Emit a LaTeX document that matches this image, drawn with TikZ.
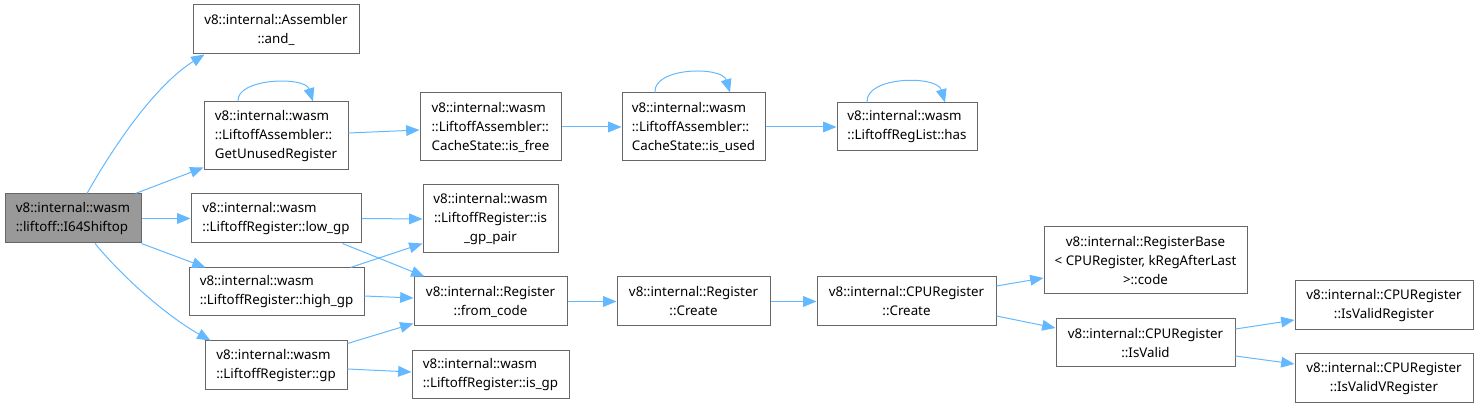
\documentclass[tikz,border=0pt]{standalone}
\usepackage{fontspec}
\setmainfont{Noto Sans}
\usepackage{tikz}
\usetikzlibrary{
    arrows.meta
}
\definecolor{edgeblue}{HTML}{63B8FF}
\definecolor{boxgray}{HTML}{666666}
\definecolor{rootgray}{HTML}{999999}

\begin{document}
\begin{tikzpicture}[x=0.75pt,y=-0.75pt,
    fn/.style={draw=boxgray,line width=0.75pt,inner sep=0pt,align=left,
        font=\fontsize{10}{14.25}\selectfont},
    fnc/.style={fn,align=center},
    call/.style={draw=edgeblue,line width=0.75pt,-{Triangle[length=10pt,width=8pt]}}]

\useasboundingbox (0,0) rectangle (1479,409);

% first column
\node[fn,fill=rootgray,minimum width=102pt,minimum height=36.75pt] (root) at (73,218.5)
    {v8::internal::wasm\\::liftoff::I64Shiftop};

% second column
\node[fnc,minimum width=124.5pt,minimum height=36.75pt] (and) at (276,29.5)
    {v8::internal::Assembler\\::and\_};
\node[fn,minimum width=108pt,minimum height=51pt] (unused) at (276,136)
    {v8::internal::wasm\\::LiftoffAssembler::\\GetUnusedRegister};
\node[fn,minimum width=127.5pt,minimum height=36.75pt] (lowgp) at (276,218.5)
    {v8::internal::wasm\\::LiftoffRegister::low\_gp};
\node[fn,minimum width=131.25pt,minimum height=36pt] (highgp) at (276.5,292)
    {v8::internal::wasm\\::LiftoffRegister::high\_gp};
\node[fn,minimum width=106.5pt,minimum height=36.75pt] (gp) at (276,365.5)
    {v8::internal::wasm\\::LiftoffRegister::gp};

% third column
\node[fn,minimum width=105.75pt,minimum height=51pt] (isfree) at (490.5,127)
    {v8::internal::wasm\\::LiftoffAssembler::\\CacheState::is\_free};
\node[fnc,minimum width=101.25pt,minimum height=51pt] (isgppair) at (490.5,219)
    {v8::internal::wasm\\::LiftoffRegister::is\\\_gp\_pair};
\node[fnc,minimum width=114.75pt,minimum height=36.75pt] (fromcode) at (490.5,301.5)
    {v8::internal::Register\\::from\_code};
\node[fn,minimum width=117.75pt,minimum height=36pt] (isgp) at (490.5,375)
    {v8::internal::wasm\\::LiftoffRegister::is\_gp};

% fourth column
\node[fn,minimum width=107.25pt,minimum height=51pt] (isused) at (693.5,127)
    {v8::internal::wasm\\::LiftoffAssembler::\\CacheState::is\_used};
\node[fnc,minimum width=114.75pt,minimum height=36.75pt] (regcreate) at (693.5,301.5)
    {v8::internal::Register\\::Create};

% fifth column
\node[fn,minimum width=105pt,minimum height=36pt] (has) at (907,127)
    {v8::internal::wasm\\::LiftoffRegList::has};
\node[fnc,minimum width=134.25pt,minimum height=36.75pt] (cpucreate) at (906.5,301.5)
    {v8::internal::CPURegister\\::Create};

% sixth column
\node[fnc,minimum width=152.25pt,minimum height=50.25pt] (regbase) at (1145.5,260.5)
    {v8::internal::RegisterBase\\< CPURegister, kRegAfterLast\\>::code};
\node[fnc,minimum width=134.25pt,minimum height=36pt] (isvalid) at (1145.5,343)
    {v8::internal::CPURegister\\::IsValid};

% last column
\node[fnc,minimum width=133.5pt,minimum height=36.75pt] (isvalidreg) at (1384,305.5)
    {v8::internal::CPURegister\\::IsValidRegister};
\node[fnc,minimum width=133.5pt,minimum height=36.75pt] (isvalidvreg) at (1384,378.5)
    {v8::internal::CPURegister\\::IsValidVRegister};

% calls
\draw[call] ([shift={(14,0)}]root.north) .. controls (120,135) and (160,82) .. ([shift={(12,0)}]and.south west);
\draw[call] ([shift={(-6,0)}]root.north east) -- ([shift={(0,-3)}]unused.south west);
\draw[call] (root.east) -- (lowgp.west);
\draw[call] (root.south east) -- ([shift={(17,0)}]highgp.north west);
\draw[call] ([shift={(22,0)}]root.south) .. controls (125,280) and (170,318) .. ([shift={(6,0)}]gp.north west);

\draw[call] ([shift={(-38,0)}]unused.north) .. controls (236,78) and (305,76) .. ([shift={(37,0)}]unused.north);
\draw[call] ([shift={(0,-3)}]unused.east) -- ([shift={(0,3)}]isfree.west);
\draw[call] (isfree.east) -- (isused.west);
\draw[call] ([shift={(-38.5,0)}]isused.north) .. controls (653,67) and (722,66) .. ([shift={(36.5,0)}]isused.north);
\draw[call] (isused.east) -- (has.west);
\draw[call] ([shift={(-40,0)}]has.north) .. controls (865,76) and (937,75) .. ([shift={(38,0)}]has.north);

\draw[call] (lowgp.east) -- (isgppair.west);
\draw[call] ([shift={(-19,0)}]lowgp.south east) -- ([shift={(11,0)}]fromcode.north west);
\draw[call] ([shift={(-14,0)}]highgp.north east) -- ([shift={(0,-10)}]isgppair.south west);
\draw[call] ([shift={(0,4)}]highgp.east) -- ([shift={(0,-3.5)}]fromcode.west);
\draw[call] ([shift={(0,3)}]gp.north east) -- ([shift={(0,-3)}]fromcode.south west);
\draw[call] ([shift={(0,3.5)}]gp.east) -- ([shift={(0,-3)}]isgp.west);

\draw[call] (fromcode.east) -- (regcreate.west);
\draw[call] (regcreate.east) -- (cpucreate.west);
\draw[call] ([shift={(0,-15.5)}]cpucreate.east) -- ([shift={(0,17.5)}]regbase.west);
\draw[call] ([shift={(0,14.5)}]cpucreate.east) -- ([shift={(0,-15)}]isvalid.west);
\draw[call] ([shift={(0,-14)}]isvalid.east) -- ([shift={(0,14.5)}]isvalidreg.west);
\draw[call] ([shift={(0,13)}]isvalid.east) -- ([shift={(0,-14.5)}]isvalidvreg.west);

\end{tikzpicture}
\end{document}
